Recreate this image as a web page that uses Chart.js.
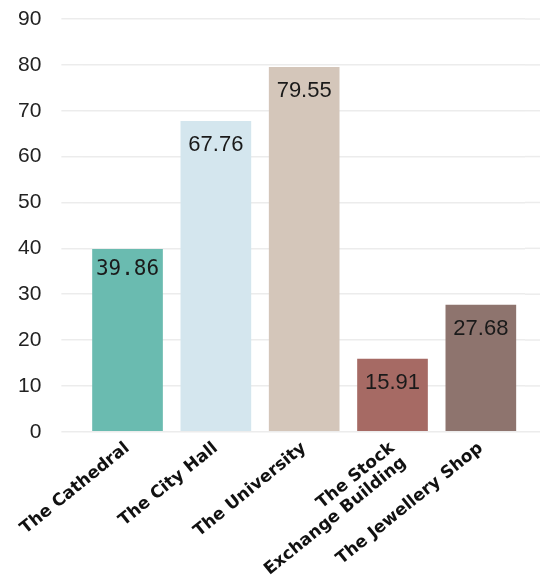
<!DOCTYPE html>
<html>
<head>
<meta charset="utf-8">
<script src="https://cdn.jsdelivr.net/npm/chart.js@4.4.0/dist/chart.umd.min.js"></script>
<style>
  html, body { margin: 0; padding: 0; background: #fff; }
  #wrap { width: 540px; height: 583px; position: relative; }
</style>
</head>
<body>
<div id="wrap"><canvas id="barChart"></canvas></div>
<script>
// Chart data
const buildings = ['The Cathedral', 'The City Hall', 'The University', ['The Stock', 'Exchange Building'], 'The Jewellery Shop'];
const visitors = [39.86, 67.76, 79.55, 15.91, 27.68];
const barColors = ['#6abbb0', '#d4e6ee', '#d4c6ba', '#a66a64', '#8e746e'];
const yTicks = [0, 10, 20, 30, 40, 50, 60, 70, 80, 90];

// stretch the horizontal grid lines out to the right edge of the canvas
const gridExtend = {
    id: 'gridExtend',
    beforeDatasetsDraw(chart) {
        const ctx = chart.ctx;
        const y = chart.scales.y;
        ctx.save();
        ctx.strokeStyle = '#ececec';
        ctx.lineWidth = 1.5;
        yTicks.forEach(function(v) {
            const py = y.getPixelForValue(v);
            ctx.beginPath();
            ctx.moveTo(chart.chartArea.right, py);
            ctx.lineTo(chart.width, py);
            ctx.stroke();
        });
        ctx.restore();
    }
};

// value labels just inside the top of each bar
const valueLabels = {
    id: 'valueLabels',
    afterDatasetsDraw(chart) {
        const ctx = chart.ctx;
        const meta = chart.getDatasetMeta(0);
        ctx.save();
        ctx.fillStyle = '#1a1a1a';
        ctx.textAlign = 'center';
        ctx.textBaseline = 'middle';
        meta.data.forEach(function(bar, i) {
            if (i === 0) {
                ctx.font = '21px "DejaVu Sans Mono"';
                ctx.fillText(visitors[i].toFixed(2), bar.x, bar.y + 21);
            } else {
                ctx.font = '22px "Liberation Sans"';
                ctx.fillText(visitors[i].toFixed(2), bar.x, bar.y + 24);
            }
        });
        ctx.restore();
    }
};

// let the layout padding decide the margins, not the label overhang,
// and only count the tick padding once
function trimAxis(scale) {
    scale.paddingLeft = 0;
    scale.paddingRight = 0;
    scale.paddingTop = 0;
    scale.paddingBottom = 0;
    const pad = scale.options.ticks.padding;
    if (scale.isHorizontal()) {
        scale.height -= pad;
    } else {
        scale.width -= pad;
    }
}

document.addEventListener('DOMContentLoaded', function() {
    const ctx = document.getElementById('barChart').getContext('2d');
    new Chart(ctx, {
        type: 'bar',
        data: {
            labels: buildings,
            datasets: [{
                data: visitors,
                backgroundColor: barColors,
                barPercentage: 0.8,
                categoryPercentage: 1.0
            }]
        },
        options: {
            responsive: true,
            maintainAspectRatio: false,
            animation: false,
            layout: { padding: { top: 19, right: 15, left: 18, bottom: 0 } },
            plugins: {
                legend: { display: false },
                tooltip: { enabled: false }
            },
            scales: {
                x: {
                    afterFit: trimAxis,
                    grid: { display: false, drawTicks: false },
                    border: { display: false },
                    ticks: {
                        color: '#111',
                        minRotation: 39,
                        maxRotation: 39,
                        padding: 7,
                        font: { family: 'DejaVu Sans', size: 17, weight: 'bold', lineHeight: 1.1 }
                    }
                },
                y: {
                    min: 0,
                    max: 90,
                    afterFit: trimAxis,
                    afterBuildTicks: function(axis) {
                        axis.ticks = yTicks.map(function(v) { return { value: v }; });
                    },
                    border: { display: false },
                    grid: { color: '#ececec', lineWidth: 1.5, tickLength: 22 },
                    ticks: {
                        color: '#222',
                        padding: 20,
                        font: { family: 'Liberation Sans', size: 21 }
                    }
                }
            }
        },
        plugins: [gridExtend, valueLabels]
    });
});
</script>
</body>
</html>
